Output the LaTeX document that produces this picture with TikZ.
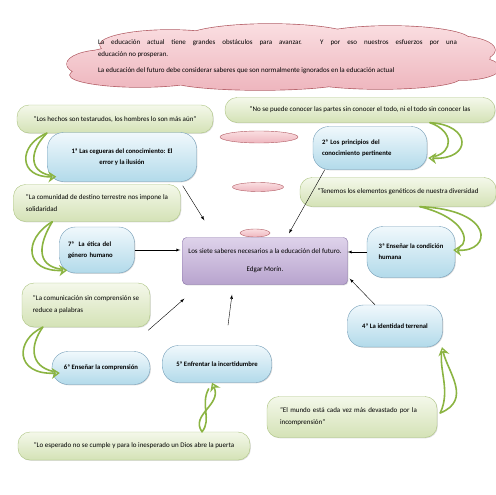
\documentclass[tikz,border=0pt]{standalone}
\usepackage{fontspec}
\setmainfont{Carlito}
\usetikzlibrary{shapes.geometric,shadows,calc,arrows.meta}

\definecolor{cloudtop}{RGB}{250,222,225}
\definecolor{cloudbot}{RGB}{238,182,190}
\definecolor{cloudline}{RGB}{178,92,100}
\definecolor{quotetop}{RGB}{244,248,234}
\definecolor{quotebot}{RGB}{212,226,182}
\definecolor{quoteline}{RGB}{172,196,128}
\definecolor{sabertop}{RGB}{240,248,252}
\definecolor{saberbot}{RGB}{178,218,234}
\definecolor{saberline}{RGB}{118,160,186}
\definecolor{morintop}{RGB}{222,210,234}
\definecolor{morinbot}{RGB}{184,164,206}
\definecolor{morinline}{RGB}{136,114,168}
\definecolor{leafgreen}{RGB}{139,180,66}

\newcommand\cloudlobes{(285,58) ellipse [x radius=205, y radius=20]
    (170,45) ellipse [x radius=70, y radius=15] (270,38) ellipse [x radius=85, y radius=14]
    (390,40) ellipse [x radius=80, y radius=14] (455,50) ellipse [x radius=40, y radius=14]
    (140,75) ellipse [x radius=70, y radius=12] (260,80) ellipse [x radius=90, y radius=10]
    (380,78) ellipse [x radius=80, y radius=11] (462,68) ellipse [x radius=38, y radius=12]
    (105,64) ellipse [x radius=38, y radius=14]}

\begin{document}
\begin{tikzpicture}[x=1pt, y=-1pt,
    txt/.style={font=\fontsize{7}{12}\selectfont},
    quote/.style={txt, draw=quoteline, top color=quotetop, bottom color=quotebot, rounded corners=12pt, inner sep=0pt, align=left, drop shadow={shadow xshift=0.8pt, shadow yshift=-0.8pt, opacity=0.25}},
    saber/.style={txt, font=\fontsize{6.7}{11}\selectfont\bfseries, draw=saberline, top color=sabertop, bottom color=saberbot, rounded corners=16pt, inner sep=0pt, align=left, drop shadow={shadow xshift=0.8pt, shadow yshift=-0.8pt, opacity=0.3}},
    centre/.style={txt, draw=morinline, top color=morintop, bottom color=morinbot, rounded corners=4pt, align=center, drop shadow={shadow xshift=0.8pt, shadow yshift=-0.8pt, opacity=0.3}},
    bubble/.style={ellipse, draw=cloudline, top color=cloudtop, bottom color=cloudbot, inner sep=0pt},
    line/.style={draw, -latex, thin},
    leaf/.style={draw=leafgreen, line width=1.6pt, line cap=round},
    leaftip/.style={leaf, -{Stealth[open, length=8pt, width=11pt, inset=2.5pt]}}
]
    \fill[white] (0,0) rectangle (495,495);
    \useasboundingbox (0,0) rectangle (495,495);

    % cloud
    \path[draw=cloudline, line width=1.3pt] \cloudlobes;
    \path[top color=cloudtop, bottom color=cloudbot] \cloudlobes;
    \node[txt, text width=359pt, align=justify] (intro) at (277.5,57) {La educación actual tiene grandes obstáculos para avanzar. Y por eso nuestros esfuerzos por una\linebreak educación no prosperan.\par\vspace{4pt}La educación del futuro debe considerar saberes que son normalmente ignorados en la educación actual};

    \node[bubble, minimum width=78pt, minimum height=12pt] (bub1) at (259,137) {};
    \node[bubble, minimum width=51pt, minimum height=9pt] (bub2) at (258,187) {};
    \node[bubble, minimum width=30pt, minimum height=8pt] (bub3) at (255,233) {};

    % quotes
    \node[quote, minimum width=196pt, minimum height=28pt] (q1) at (115,119) {"Los hechos son testarudos, los hombres lo son más aún"};
    \node[quote, minimum width=270pt, minimum height=25pt] (q2) at (360,110) {"No se puede conocer las partes sin conocer el todo, ni el todo sin conocer las};
    \node[quote, minimum width=167pt, minimum height=37pt] (q3) at (97,203) {"La comunidad de destino terrestre nos impone la\\solidaridad};
    \node[quote, minimum width=196pt, minimum height=29pt] (q4) at (398,192) {"Tenemos los elementos genéticos de nuestra diversidad};
    \node[quote, minimum width=128pt, minimum height=44pt] (q5) at (86,305) {"La comunicación sin comprensión se\\reduce a palabras};
    \node[quote, minimum width=170pt, minimum height=41pt, text width=144pt] (q6) at (352,417) {"El mundo está cada vez más devastado por la\\incomprensión"};
    \node[quote, minimum width=232pt, minimum height=28pt] (q7) at (134,446) {"Lo esperado no se cumple y para lo inesperado un Dios abre la puerta};

    % the seven saberes
    \node[saber, minimum width=149pt, minimum height=49pt, align=center] (s1) at (122,157) {1ª Las cegueras del conocimiento: El\\error y la ilusión};
    \node[saber, minimum width=114pt, minimum height=43pt, text width=96pt] (s2) at (370,148) {2ª Los principios del\\conocimiento pertinente};
    \node[saber, minimum width=88pt, minimum height=51pt] (s3) at (411,252) {3ª Enseñar la condición\\humana};
    \node[saber, minimum width=95pt, minimum height=42pt] (s4) at (395,326) {4ª La identidad terrenal};
    \node[saber, minimum width=109pt, minimum height=37pt] (s5) at (217,364) {5ª Enfrentar la incertidumbre};
    \node[saber, minimum width=98pt, minimum height=33pt] (s6) at (101,368) {6ª Enseñar la comprensión};
    \node[saber, minimum width=75pt, minimum height=46pt, text width=58pt] (s7) at (97,250) {7ª\ \ La ética del\\género humano};

    \node[centre, minimum width=165pt, minimum height=47pt] (morin) at (265,261) {Los siete saberes necesarios a la educación del futuro.\\[6pt]Edgar Morín.};

    % arrows to the centre
    \draw[line] ($(s1.south east)+(-14,4)$) -- ($(morin.north west)+(22,-17)$);
    \draw[line] ($(s2.south west)+(12,0)$) -- ($(morin.north)+(24,-4)$);
    \draw[line] (s3.west) -- (s3.west -| morin.east);
    \draw[line] ($(s4.north)+(-20,0)$) -- ($(morin.south east)+(2,-6)$);
    \draw[line] ($(s5.north)+(11,-20)$) -- ($(morin.south)+(-33,10)$);
    \draw[line] ($(s6.north east)+(-2,-21)$) -- ($(morin.south west)+(2,14)$);
    \draw[line, shorten >=2pt] (s7.east) -- (s7.east -| morin.west);

    % green curved arrows
    \coordinate (l1) at ($(q1.south west)+(30,0)$);
    \coordinate (m1) at ($(s1.south west)+(9,-5)$);
    \draw[leaftip] (l1) .. controls +(-29,12) and +(-38,1) .. (m1);
    \draw[leaf, shorten >=7pt] (l1) .. controls +(-17,17) and +(-28,-6) .. (m1);

    \coordinate (l2) at ($(q2.south)+(70,0)$);
    \coordinate (m2) at ($(s2.east)+(1,10)$);
    \draw[leaftip] (l2) .. controls +(42,2) and +(44,2) .. (m2);
    \draw[leaf, shorten >=7pt] (l2) .. controls +(25,9) and +(24,-6) .. (m2);

    \coordinate (l3) at ($(q4.south)+(22,0)$);
    \coordinate (m3) at ($(s3.east)+(-2,-2)$);
    \draw[leaftip] (l3) .. controls +(75,3) and +(39,2) .. (m3);
    \draw[leaf, shorten >=7pt] (l3) .. controls +(45,11) and +(17,-8) .. (m3);

    \coordinate (l4) at ($(q3.south west)+(39,0)$);
    \coordinate (m4) at ($(s7.south west)+(8,-3)$);
    \draw[leaftip] (l4) .. controls +(-30,18) and +(-42,2) .. (m4);
    \draw[leaf, shorten >=7pt] (l4) .. controls +(-14,23) and +(-31,-5) .. (m4);

    \coordinate (l5) at ($(q5.south west)+(21,0)$);
    \coordinate (m5) at ($(s6.west)+(8,5)$);
    \draw[leaftip] (l5) .. controls +(-28,13) and +(-45,2) .. (m5);
    \draw[leaf, shorten >=7pt] (l5) .. controls +(-13,18) and +(-30,-7) .. (m5);

    \coordinate (l6) at ($(q6.east)+(3,-4)$);
    \coordinate (m6) at ($(s4.south)+(47,0)$);
    \draw[leaftip] (l6) .. controls +(32,-13) and +(6,25) .. (m6);
    \draw[leaf, shorten >=7pt] (l6) .. controls +(10,-21) and +(-2,25) .. (m6);

    \coordinate (l7) at ($(q7.north)+(68,0)$);
    \coordinate (m7) at ($(s5.south)+(-5,0)$);
    \draw[leaftip] (l7) .. controls +(-12,-17) and +(10,22) .. (m7);
    \draw[leaf, shorten >=7pt] (l7) .. controls +(10,-12) and +(-12,22) .. (m7);
\end{tikzpicture}
\end{document}
